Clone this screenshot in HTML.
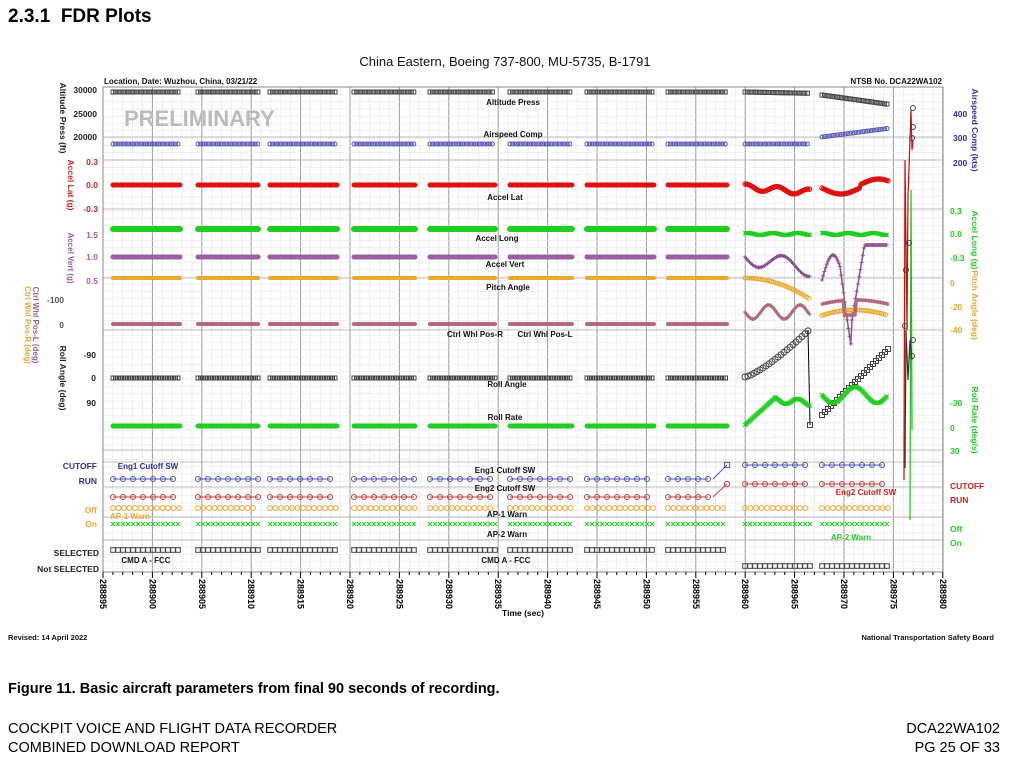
<!DOCTYPE html>
<html><head><meta charset="utf-8"><style>
body{margin:0;width:1012px;height:767px;background:#fff;overflow:hidden;font-family:"Liberation Sans",sans-serif;position:relative}
.t{position:absolute;white-space:nowrap}
</style></head><body>
<div class="t" style="left:8px;top:6px;font-size:19px;font-weight:bold">2.3.1&nbsp; FDR Plots</div>
<div class="t" style="left:8px;top:681px;font-size:14.5px;font-weight:bold">Figure 11. Basic aircraft parameters from final 90 seconds of recording.</div>
<div class="t" style="left:8px;top:720px;font-size:14.5px;line-height:19px">COCKPIT VOICE AND FLIGHT DATA RECORDER<br>COMBINED DOWNLOAD REPORT</div>
<div class="t" style="right:12px;top:720px;font-size:14.5px;line-height:19px;text-align:right">DCA22WA102<br>PG 25 OF 33</div>
<svg id="s" width="1012" height="767" style="position:absolute;left:0;top:0" font-family="Liberation Sans, sans-serif"></svg>
<script>
const S=document.getElementById('s');let h='';
const X=t=>103+(t-288895)*9.88;
const L=103,R=943,T=87,B=572;
for(let t=288895;t<=288980;t++){const x=X(t);h+=`<line x1="${x}" y1="${T}" x2="${x}" y2="${B}" stroke="${t%5==0?'#999':'#e2e2e2'}" stroke-width="${t%5==0?1:0.6}"/>`;}
for(let y=T;y<=B;y+=7.3){h+=`<line x1="${L}" y1="${y}" x2="${R}" y2="${y}" stroke="#e6e6e6" stroke-width="0.6"/>`;}
[137,160,209,278,330,450,462,487,517,540].forEach(y=>h+=`<line x1="${L}" y1="${y}" x2="${R}" y2="${y}" stroke="#aaa" stroke-width="0.8"/>`);
h+=`<rect x="${L}" y="${T}" width="${R-L}" height="${B-T}" fill="none" stroke="#888"/>`;
for(let t=288895;t<=288980;t++){const x=X(t);h+=`<line x1="${x}" y1="${B}" x2="${x}" y2="${B+(t%5==0?6:3)}" stroke="#000"/>`;
 if(t%5==0)h+=`<text transform="translate(${x-3},${B+7}) rotate(90)" font-size="9" font-weight="bold">${t}</text>`;}
h+=`<text x="523" y="616" font-size="8.5" font-weight="bold" text-anchor="middle">Time (sec)</text>`;
const segs=[[113,180],[198,258],[270,337],[354,415],[430,495],[510,572],[587,654],[668,727]];
const late=[[745,810],[822,888]];
function mk(type,x,y,c,r){r=r||2.6;
 if(type=='o')return `<circle cx="${x}" cy="${y}" r="${r}" fill="none" stroke="${c}" stroke-width="1"/>`;
 if(type=='s')return `<rect x="${x-r}" y="${y-r}" width="${2*r}" height="${2*r}" fill="none" stroke="${c}" stroke-width="1"/>`;
 if(type=='x')return `<path d="M${x-2} ${y-2}L${x+2} ${y+2}M${x-2} ${y+2}L${x+2} ${y-2}" stroke="${c}" stroke-width="1"/>`;
 if(type=='+')return `<path d="M${x-2} ${y}H${x+2}M${x} ${y-2}V${y+2}" stroke="${c}" stroke-width="1"/>`;
 return '';}
function series(arr,f,type,c,step,r,line,lw){step=step||2.5;
 arr.forEach(([a,b])=>{let pts=[];for(let x=a;x<=b;x+=step){pts.push([x,f(x)]);}
  if(line)h+=`<polyline points="${pts.map(p=>p.join(',')).join(' ')}" fill="none" stroke="${line}" stroke-width="${lw||1}"/>`;
  pts.forEach(p=>h+=mk(type,p[0],p[1],c,r));});}
function bar(arr,y,c,w){arr.forEach(([a,b])=>h+=`<line x1="${a}" y1="${y}" x2="${b}" y2="${y}" stroke="${c}" stroke-width="${w}" stroke-linecap="round"/>`);}
series(segs,x=>92,'s','#444',2.6,2);
series([[745,810]],x=>92+(x-745)*0.02,'s','#444',2.6,2);
series([[822,888]],x=>95+(x-822)*0.14,'s','#444',2.6,2);
series(segs.concat([[745,810]]),x=>144,'o','#5050b0',2.6,2);
series([[822,888]],x=>137-(x-822)*0.13,'o','#5050b0',2.6,2);
bar(segs,185,'#dd1111',5);
series([[745,810]],x=>187+3*Math.sin(x/5)+(x-745)*0.08,'o','#dd1111',1.5,2.2,'#dd1111',3);
series([[822,888]],x=>188+6*Math.sin((x-822)/12)+(x>860?-3:0),'o','#dd1111',1.5,2.2,'#dd1111',3);
bar(segs,229,'#22cc22',6);
series([[745,810],[822,888]],x=>234+Math.sin(x/4),'x','#22cc22',1.2,2,'#22cc22',4);
bar(segs,257,'#9b5fa0',5);
series([[745,810]],x=>257+8*Math.sin((x-745)/8)+(x-745)*0.18,'+','#8a4f90',1.5,2,'#8a4f90',2.5);
series([[822,888]],x=>{const u=(x-822);return u<30?280-25*Math.sin(u/7)+(u>18?(u-18)*4:0):Math.max(245,320-(u-30)*6);},'+','#8a4f90',1.2,2,'#8a4f90',1.5);
bar(segs,278,'#e8a832',4);
series([[745,810]],x=>278+(x-745)*(x-745)*0.005,'o','#e8a832',2.2,2);
series([[822,888]],x=>310+Math.pow((x-855)/20,2)*2,'o','#e8a832',2.2,2);
bar(segs,324,'#b06a7a',4);
series([[745,810]],x=>312+7*Math.sin((x-745)/5),'+','#b06a7a',1.5,2,'#b06a7a',3);
series([[822,888]],x=>300+Math.pow((x-855)/18,2)*1.2+(Math.abs(x-850)<6?15:0),'+','#b06a7a',1.5,2,'#b06a7a',3);
series(segs,x=>378,'s','#444',2.5,2);
series([[745,810]],x=>377-Math.pow((x-745)/65,1.3)*48,'o','#444',3,3);
h+=`<line x1="808" y1="330" x2="810" y2="425" stroke="#000"/>`+mk('s',810,425,'#444',2.5);
series([[822,888]],x=>415-(x-822)*1.0,'s','#444',3,2.5);
bar(segs,426,'#22cc22',5);
series([[745,810]],x=>x<775?425-(x-745)*0.9:400+3*Math.sin(x/4)+(x-775)*0.08,'x','#22cc22',1.2,2,'#44dd44',4);
series([[822,888]],x=>395+8*Math.sin((x-822)/7),'x','#22cc22',1.2,2,'#44dd44',4);
series(segs.slice(0,7),x=>479,'o','#5050b0',10,2.5,'#5050b0');
series([[668,713]],x=>479,'o','#5050b0',10,2.5,'#5050b0');h+=`<polyline points="713,479 727,465" stroke="#5050b0" fill="none"/>`+mk('s',727,465,'#5050b0');
series(late,x=>465,'o','#5050b0',10,2.5,'#5050b0');
series(segs.slice(0,7),x=>497,'o','#c04040',10,2.5,'#c04040');
series([[668,713]],x=>497,'o','#c04040',10,2.5,'#c04040');h+=`<polyline points="713,497 727,484" stroke="#c04040" fill="none"/>`+mk('o',727,484,'#c04040');
series(late,x=>484,'o','#c04040',10,2.5,'#c04040');
series(segs.concat(late),x=>508,'o','#e8a832',5.5,2.4);
series(segs.concat(late),x=>524,'x','#22cc22',5,2);
series(segs,x=>550,'s','#444',5,2.3);
series(late,x=>566,'s','#444',5,2.3);
h+=`<polyline points="904,480 905,160 907,330 908,196 911,110 912,150 913,140" fill="none" stroke="#c01010" stroke-width="1.2"/>`;
h+=`<polyline points="910,520 911,190 912,430" fill="none" stroke="#22bb22" stroke-width="1.2"/>`;
h+=`<polyline points="905,468 906,330 908,380 910,340 912,360" fill="none" stroke="#333" stroke-width="1.2"/>`;
[[913,108],[913,127],[912,138],[906,270],[909,243],[905,326],[912,356],[913,340]].forEach(p=>h+=mk('o',p[0],p[1],'#444',2.5));
function vl(x,y,txt,c,rot,fs){h+=`<text transform="translate(${x},${y}) rotate(${rot||90})" font-size="${fs||8.5}" font-weight="bold" fill="${c}" text-anchor="middle">${txt}</text>`;}
vl(60,118,'Altitude Press (ft)','#222');vl(68,185,'Accel Lat (g)','#cc2222');vl(68,258,'Accel Vert (g)','#9b5fa0',90,8);
vl(33,325,'Ctrl Whl Pos-L (deg)','#9b5fa0',90,8);vl(25,325,'Ctrl Whl Pos-R (deg)','#e8a832',90,8);vl(60,378,'Roll Angle (deg)','#222');
function tl(x,y,txt,c,a,fs){h+=`<text x="${x}" y="${y}" font-size="${fs||8.5}" font-weight="bold" fill="${c}" text-anchor="${a||'end'}">${txt}</text>`;}
tl(97,93,'30000','#222');tl(97,117,'25000','#222');tl(97,140,'20000','#222');
tl(98,165,'0.3','#cc2222');tl(98,188,'0.0','#cc2222');tl(98,212,'-0.3','#cc2222');
tl(98,238,'1.5','#9b5fa0');tl(98,260,'1.0','#9b5fa0');tl(98,284,'0.5','#9b5fa0');
tl(64,303,'-100','#555');tl(64,328,'0','#555');tl(96,358,'-90','#222');tl(96,381,'0','#222');tl(96,406,'90','#222');
tl(97,469,'CUTOFF','#3030a0');tl(97,484,'RUN','#3030a0');tl(97,513,'Off','#e8a832');tl(97,527,'On','#e8a832');
tl(99,556,'SELECTED','#222');tl(99,572,'Not SELECTED','#222');
vl(972,130,'Airspeed Comp (kts)','#3030a0');vl(972,240,'Accel Long (g)','#22cc22');vl(972,305,'Pitch Angle (deg)','#e8a832');vl(972,420,'Roll Rate (deg/s)','#22cc22');
tl(953,117,'400','#3030a0','start');tl(953,141,'300','#3030a0','start');tl(953,166,'200','#3030a0','start');
tl(950,214,'0.3','#22cc22','start');tl(950,237,'0.0','#22cc22','start');tl(950,261,'-0.3','#22cc22','start');
tl(950,286,'0','#e8a832','start');tl(950,310,'-20','#e8a832','start');tl(950,333,'-40','#e8a832','start');
tl(950,406,'-30','#22cc22','start');tl(950,431,'0','#22cc22','start');tl(950,454,'30','#22cc22','start');
tl(950,489,'CUTOFF','#cc2222','start');tl(950,503,'RUN','#cc2222','start');tl(950,532,'Off','#22cc22','start');tl(950,546,'On','#22cc22','start');
tl(513,105,'Altitude Press','#111','middle',8);tl(513,137,'Airspeed Comp','#111','middle',8);tl(505,200,'Accel Lat','#111','middle',8);
tl(497,241,'Accel Long','#111','middle',8);tl(505,267,'Accel Vert','#111','middle',8);tl(508,290,'Pitch Angle','#111','middle',8);
tl(475,337,'Ctrl Whl Pos-R','#111','middle',8);tl(545,337,'Ctrl Whl Pos-L','#111','middle',8);tl(507,387,'Roll Angle','#111','middle',8);tl(505,420,'Roll Rate','#111','middle',8);
tl(505,473,'Eng1 Cutoff SW','#111','middle',8);tl(505,491,'Eng2 Cutoff SW','#111','middle',8);tl(507,517,'AP-1 Warn','#111','middle',8);tl(507,537,'AP-2 Warn','#111','middle',8);
tl(148,469,'Eng1 Cutoff SW','#3030a0','middle',8);tl(130,519,'AP-1 Warn','#e8a832','middle',8);tl(146,563,'CMD A - FCC','#111','middle',8);tl(506,563,'CMD A - FCC','#111','middle',8);
tl(866,495,'Eng2 Cutoff SW','#cc2222','middle',8);tl(851,540,'AP-2 Warn','#22cc22','middle',8);
tl(104,84,'Location, Date: Wuzhou, China, 03/21/22','#111','start',8);tl(942,84,'NTSB No. DCA22WA102','#111','end',8);
h+=`<text x="505" y="66" font-size="13" fill="#111" text-anchor="middle">China Eastern, Boeing 737-800, MU-5735, B-1791</text>`;
h+=`<text x="124" y="126" font-size="22" font-weight="bold" fill="#bbb">PRELIMINARY</text>`;
tl(8,640,'Revised: 14 April 2022','#111','start',7.5);tl(994,640,'National Transportation Safety Board','#111','end',7.5);
S.innerHTML=h;
</script>
</body></html>
